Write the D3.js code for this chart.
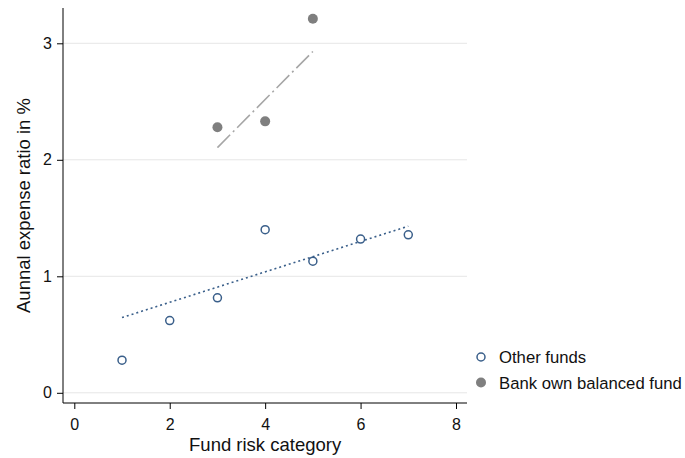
<!DOCTYPE html>
<html>
  <head>
    <meta charset="utf-8" />
    <script src="https://d3js.org/d3.v7.min.js"></script>
    <style>
      body { margin: 0; background: #fff; }
      text { font-family: Arial, "Liberation Sans", sans-serif; }
    </style>
  </head>
  <body>
    <script>
      // data
      const otherX = [1, 2, 3, 4, 5, 6, 7];
      const otherY = [0.28, 0.62, 0.815, 1.4, 1.13, 1.32, 1.356];
      const bankX = [3, 4, 5];
      const bankY = [2.28, 2.33, 3.21];
      // fitted lines (endpoints)
      const otherFitX = [1, 7];
      const otherFitY = [0.646, 1.43];
      const bankFitX = [3, 5];
      const bankFitY = [2.105, 2.93];
      const xTicks = [0, 2, 4, 6, 8];
      const yTicks = [0, 1, 2, 3];
      const seriesNames = ["Other funds", "Bank own balanced fund"];

      const width = 685, height = 458;
      const blue = "#3a5f8a", gray = "#7f7f7f";

      const svg = d3.select("body").append("svg")
        .attr("width", width)
        .attr("height", height);

      const x = d3.scaleLinear().domain([0, 8]).range([74.3, 456]);
      const y = d3.scaleLinear().domain([0, 3]).range([392.8, 43.3]);

      const plotLeft = 63, plotRight = 467, plotTop = 8, plotBottom = 403;

      // gridlines
      svg.append("g").selectAll("line")
        .data(yTicks)
        .join("line")
        .attr("x1", plotLeft).attr("x2", plotRight)
        .attr("y1", d => y(d)).attr("y2", d => y(d))
        .attr("stroke", "#e6e6e6").attr("stroke-width", 1);

      // y axis
      const yAxis = svg.append("g")
        .attr("transform", `translate(${plotLeft},0)`)
        .call(d3.axisLeft(y).tickValues(yTicks).tickFormat(d3.format("d")).tickSize(6).tickPadding(5));
      yAxis.select(".domain").remove();
      yAxis.append("line").attr("x1", 0).attr("x2", 0).attr("y1", plotTop).attr("y2", plotBottom)
        .attr("stroke", "#000");

      // x axis
      const xAxis = svg.append("g")
        .attr("transform", `translate(0,${plotBottom})`)
        .call(d3.axisBottom(x).tickValues(xTicks).tickFormat(d3.format("d")).tickSize(6).tickPadding(10));
      xAxis.select(".domain").remove();
      xAxis.append("line").attr("x1", plotLeft).attr("x2", plotRight).attr("y1", 0).attr("y2", 0)
        .attr("stroke", "#000");

      svg.selectAll(".tick text").attr("font-size", 16).attr("fill", "#111");
      svg.selectAll(".tick line").attr("stroke", "#000");

      // axis titles
      svg.append("text")
        .attr("x", (x(0) + x(8)) / 2).attr("y", 451)
        .attr("text-anchor", "middle").attr("font-size", 18.5).attr("fill", "#111")
        .text("Fund risk category");
      svg.append("text")
        .attr("transform", `translate(30,${(plotTop + plotBottom) / 2 + 0}) rotate(-90)`)
        .attr("text-anchor", "middle").attr("font-size", 18.5).attr("fill", "#111")
        .text("Aunnal expense ratio in %");

      // fit lines
      const line = d3.line().x(d => x(d[0])).y(d => y(d[1]));
      svg.append("path")
        .datum(d3.zip(otherFitX, otherFitY))
        .attr("d", line).attr("fill", "none")
        .attr("stroke", blue).attr("stroke-width", 1.6)
        .attr("stroke-dasharray", "2,3");
      svg.append("path")
        .datum(d3.zip(bankFitX, bankFitY))
        .attr("d", line).attr("fill", "none")
        .attr("stroke", "#a6a6a6").attr("stroke-width", 1.6)
        .attr("stroke-dasharray", "18,4,2,4");

      // points
      svg.append("g").selectAll("circle")
        .data(d3.zip(otherX, otherY))
        .join("circle")
        .attr("cx", d => x(d[0])).attr("cy", d => y(d[1]))
        .attr("r", 4).attr("fill", "#fff")
        .attr("stroke", blue).attr("stroke-width", 1.5);
      svg.append("g").selectAll("circle")
        .data(d3.zip(bankX, bankY))
        .join("circle")
        .attr("cx", d => x(d[0])).attr("cy", d => y(d[1]))
        .attr("r", 5).attr("fill", gray);

      // legend
      const legend = svg.append("g").attr("transform", "translate(481,357)");
      seriesNames.forEach((name, i) => {
        const g = legend.append("g").attr("transform", `translate(0,${i * 25.5})`);
        if (i === 0) {
          g.append("circle").attr("r", 4).attr("fill", "#fff")
            .attr("stroke", blue).attr("stroke-width", 1.5);
        } else {
          g.append("circle").attr("r", 5).attr("fill", gray);
        }
        g.append("text").attr("x", 18).attr("y", 6)
          .attr("font-size", 16.7).attr("fill", "#111").text(name);
      });
    </script>
  </body>
</html>
